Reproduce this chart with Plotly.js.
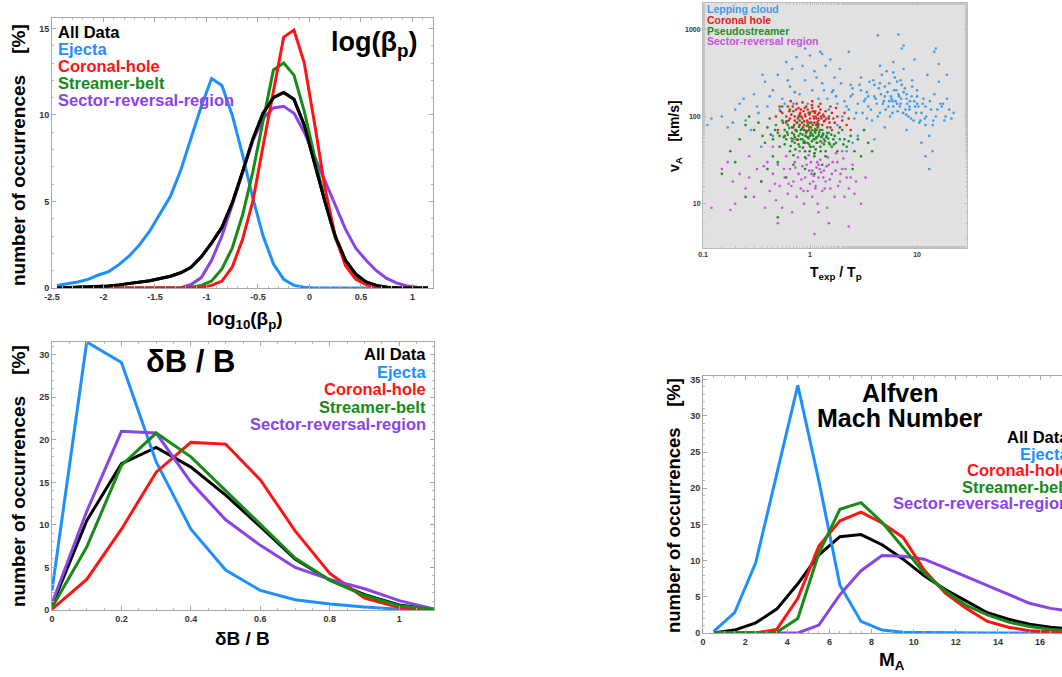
<!DOCTYPE html>
<html>
<head>
<meta charset="utf-8">
<script src="https://cdn.plot.ly/plotly-3.0.1.min.js"></script>
<style>html,body{margin:0;padding:0;background:#fff;}#chart{width:1062px;height:677px;}</style>
</head>
<body>
<div id="chart"></div>
<script>
// ---------- Panel 1: log10(beta_p) ----------
var betaBins = [-2.45,-2.35,-2.25,-2.15,-2.05,-1.95,-1.85,-1.75,-1.65,-1.55,-1.45,-1.35,-1.25,-1.15,-1.05,-0.95,-0.85,-0.75,-0.65,-0.55,-0.45,-0.35,-0.25,-0.15,-0.05,0.05,0.15,0.25,0.35,0.45,0.55,0.65,0.75,0.85,0.95,1.05,1.15];
var betaAll    = [0.0,0.02,0.03,0.05,0.08,0.12,0.18,0.25,0.33,0.42,0.55,0.68,0.88,1.2,1.8,2.6,3.5,4.9,6.7,8.6,10.1,11.0,11.3,10.9,9.4,7.2,5.0,3.0,1.6,0.8,0.35,0.15,0.05,0.02,0.0,0.0,0.0];
var betaEjecta = [0.15,0.25,0.35,0.5,0.75,0.95,1.35,1.85,2.5,3.3,4.3,5.3,6.8,8.7,10.5,12.1,11.7,10.0,7.7,5.2,3.0,1.4,0.5,0.15,0.05,0.0,0.0,0.0,0.0,0.0,0.0,0.0,0.0,0.0,0.0,0.0,0.0];
var betaCH     = [0,0,0,0,0,0,0,0,0,0,0,0,0,0.0,0.05,0.15,0.4,1.2,2.8,5.0,8.2,11.3,14.5,14.9,13.0,9.5,5.8,3.0,1.3,0.5,0.2,0.05,0.0,0.0,0.0,0.0,0.0];
var betaSB     = [0,0,0,0,0,0,0,0,0,0,0,0,0,0.05,0.15,0.4,1.1,2.3,4.2,6.7,9.6,12.6,13.0,12.3,10.2,7.5,5.0,2.9,1.5,0.6,0.25,0.1,0.03,0.0,0.0,0.0,0.0];
var betaSRR    = [0,0,0,0,0,0,0,0,0,0,0,0,0.02,0.2,0.6,1.6,3.0,4.8,6.7,8.5,9.8,10.4,10.5,10.1,9.0,7.6,6.3,4.8,3.4,2.3,1.6,1.0,0.55,0.28,0.12,0.04,0.01];
var betaXTicks = [-2.5,-2,-1.5,-1,-0.5,0,0.5,1];
var betaXText  = ['-2.5','-2','-1.5','-1','-0.5','0','0.5','1'];

// ---------- Panel 2: dB/B ----------
var dbBins   = [0,0.1,0.2,0.3,0.4,0.5,0.6,0.7,0.8,0.9,1.0,1.1];
var dbAll    = [0.5,10.5,17.2,19.1,16.8,13.5,9.8,6.0,3.5,1.8,0.6,0.05];
var dbEjecta = [2.3,31.5,29.1,17.4,9.5,4.7,2.3,1.2,0.7,0.35,0.1,0.0];
var dbCH     = [0.1,3.6,9.5,16.2,19.7,19.5,15.3,9.3,4.3,1.4,0.3,0.0];
var dbSB     = [0.3,7.4,17.0,20.8,18.0,14.0,10.0,6.1,3.5,1.7,0.5,0.1];
var dbSRR    = [0.8,11.6,21.0,20.8,15.0,10.6,7.6,5.0,3.6,2.5,1.1,0.1];

// ---------- Panel 4: Alfven Mach number ----------
var maBins   = [0.5,1.5,2.5,3.5,4.5,5.5,6.5,7.5,8.5,9.5,10.5,11.5,12.5,13.5,14.5,15.5,16.5,17.5];
var maAll    = [0.0,0.4,1.4,3.3,6.8,10.8,13.3,13.6,12.2,10.2,7.9,6.0,4.4,2.8,1.9,1.2,0.8,0.5];
var maEjecta = [0.2,2.8,9.7,22.0,34.2,21.0,6.6,1.6,0.4,0.1,0.05,0.0,0.0,0.0,0.0,0.0,0.0,0.0];
var maCH     = [0.0,0.0,0.0,0.5,4.8,12.0,15.5,16.7,15.2,13.2,8.7,5.5,3.4,1.6,0.8,0.3,0.15,0.05];
var maSB     = [0.0,0.0,0.0,0.1,2.0,11.0,17.1,18.0,15.3,11.8,8.3,5.8,3.8,2.5,1.5,0.9,0.5,0.3];
var maSRR    = [0.0,0.0,0.0,0.0,0.0,1.1,5.3,8.6,10.7,10.6,10.2,9.0,7.8,6.6,5.3,4.1,3.4,3.0];

// ---------- Panel 3: scatter v_A vs Texp/Tp ----------
var lcX = [2.1,2.3,2.5,2.6,2.8,3.0,3.1,3.3,3.5,3.6,3.8,4.0,4.2,4.4,4.5,4.7,4.9,5.1,5.3,5.5,5.6,5.8,6.0,6.2,6.4,6.6,6.8,7.0,7.2,7.5,7.8,8.0,8.3,8.6,9.0,9.3,9.6,10,10.5,11,11.5,12,12.5,13,13.5,14,14.5,15,16,17,18,19,20,22,12,13,11,14.5,7.2,9.5,4.5,6,3.2,5,8,2.8,4,16,19,10,8.8,6.5,5.2,
           0.11,0.12,0.17,0.2,0.22,0.25,0.3,0.33,0.38,0.4,0.45,0.5,0.55,0.6,0.65,0.7,0.75,0.8,0.9,1.0,1.05,1.1,1.2,1.3,1.4,1.5,1.6,1.7,1.8,1.9,1.5,1.8,2.0,0.45,0.28,0.9,1.25,0.35,2.2,2.5,4.3,6.7,7.5,1.3,2.3,15,3.4,2.4,5.9,7.9,11.8,16.5,
           2.2,2.4,2.7,2.9,3.2,3.4,3.7,3.9,4.1,4.3,4.6,4.8,5.0,5.4,5.7,5.9,6.1,6.3,6.7,6.9,7.1,7.4,7.7,8.1,8.5,8.9,9.4,9.8,10.3,10.8,11.3,12.2,13.2,14.2,15.5,17.5,18.5,21,3.0,4.0,5.0,6.0,7.0,8.0,9.0,10.0,12.0,14.0,2.5,3.5,4.5,5.5,6.5,7.5,8.5,0.15,0.19,0.24,0.32,0.42,0.52,0.62,0.72,0.85,0.95,1.15,1.35,1.55,1.75,1.95,0.36,0.58,0.68,1.45,1.65];
var lcY = [150,120,180,95,140,200,110,160,130,250,90,170,140,210,110,300,150,120,190,240,100,160,130,280,200,115,170,140,230,350,120,180,100,150,260,90,130,200,85,110,160,80,300,60,120,40,180,100,250,130,90,160,120,110,35,25,50,550,600,450,380,420,70,75,70,60,55,400,300,140,95,250,330,
           80,95,75,120,140,90,180,110,250,130,200,300,160,420,220,140,480,180,260,500,200,330,160,240,380,120,190,280,140,350,65,80,100,60,70,600,550,45,40,50,850,870,650,520,550,600,95,230,150,105,95,140,
           130,170,110,230,150,190,120,260,160,100,180,140,220,130,170,110,200,150,180,130,160,110,210,140,120,170,150,110,130,90,140,100,150,90,120,140,100,95,280,230,170,320,260,160,220,170,130,80,210,170,240,150,140,190,130,100,85,160,130,170,120,260,190,380,140,280,200,450,170,240,300,140,350,160,200];
var chX = [0.5,0.55,0.6,0.62,0.65,0.68,0.7,0.72,0.75,0.78,0.8,0.82,0.85,0.88,0.9,0.92,0.95,0.97,1.0,1.02,1.05,1.08,1.1,1.12,1.15,1.18,1.2,1.25,1.3,1.35,1.4,1.45,1.5,1.6,1.7,1.8,1.9,2.0,2.2,2.4,0.58,0.75,0.9,1.1,1.3,0.66,0.85,1.05,1.25,0.48,0.52,1.55,1.75,2.1,0.8,0.95,1.15,1.0,0.72,0.88,1.35,1.6,0.6,1.2,0.78,
           0.63,0.67,0.71,0.74,0.77,0.81,0.84,0.87,0.91,0.94,0.99,1.03,1.06,1.09,1.13,1.17,1.22,1.28,1.33,1.38,0.69,0.76,0.83,0.89,0.96,1.04,1.11,1.19,1.27,0.73,0.86,0.98,1.14,0.64,1.42,1.52,1.65,0.56,0.53,2.3];
var chY = [70,110,85,130,95,75,115,90,140,100,80,120,95,70,105,130,85,110,95,75,125,100,85,115,70,105,90,120,80,100,115,75,95,110,85,100,75,90,80,70,60,55,50,55,60,150,145,150,140,100,130,130,125,110,105,120,95,110,100,88,88,70,100,130,125,
           90,105,80,120,95,110,85,115,100,90,105,85,115,95,100,85,110,95,105,90,130,85,100,125,80,135,110,80,100,70,75,70,80,115,95,85,95,85,115,95];
var psX = [0.3,0.33,0.36,0.4,0.42,0.45,0.48,0.5,0.52,0.55,0.58,0.6,0.62,0.65,0.68,0.7,0.72,0.75,0.78,0.8,0.82,0.85,0.88,0.9,0.92,0.95,0.98,1.0,1.02,1.05,1.08,1.1,1.12,1.15,1.18,1.2,1.25,1.3,1.35,1.4,1.45,1.5,1.55,1.6,1.7,1.8,1.9,2.0,2.2,2.4,2.6,2.8,3.0,3.5,3.8,0.5,0.7,0.9,1.1,1.3,0.6,0.45,0.4,0.35,0.8,1.0,0.65,1.2,0.55,1.5,0.27,0.25,0.22,0.2,0.75,0.85,0.95,1.05,1.15,0.68,0.78,0.88,0.98,1.08,1.25,1.35,0.62,0.72,0.82,0.92,1.02,1.12,1.22,1.32,1.42,0.58,1.65,1.75,2.1,0.25,0.5,2.5,3.2,0.15,0.18,
           0.57,0.61,0.64,0.67,0.71,0.74,0.77,0.81,0.84,0.87,0.91,0.94,0.97,1.01,1.04,1.07,1.11,1.14,1.17,1.21,1.24,1.28,1.33,1.38,1.43,1.48,1.53,0.66,0.73,0.79,0.86,0.93,0.99,1.06,1.13,1.19,1.26,0.52,0.47,0.43,0.38,1.58,1.68,1.85,2.05,2.3,0.7,0.9,1.1,1.0,0.8,1.2,0.6,1.4];
var psY = [70,85,60,75,95,55,80,65,45,90,70,55,80,40,65,75,50,85,60,45,70,55,80,40,65,50,75,60,45,70,55,35,65,50,75,60,45,70,55,40,65,50,75,45,60,40,55,70,45,60,40,55,35,50,40,30,28,25,22,28,20,35,25,18,100,110,120,95,130,100,100,80,55,30,68,62,58,62,58,52,48,52,48,45,52,48,62,58,55,68,66,72,66,62,58,48,55,50,55,12,7,25,70,22,40,
           58,66,74,56,62,70,54,64,72,50,60,68,56,64,52,60,68,56,50,62,70,58,64,52,60,56,48,46,42,76,44,78,40,80,42,76,40,60,70,62,50,62,48,65,48,52,36,34,38,85,90,82,88,35];
var srX = [0.15,0.17,0.19,0.2,0.22,0.25,0.27,0.3,0.32,0.35,0.38,0.4,0.42,0.45,0.48,0.5,0.52,0.55,0.58,0.6,0.62,0.65,0.68,0.7,0.72,0.75,0.78,0.8,0.82,0.85,0.88,0.9,0.92,0.95,0.98,1.0,1.02,1.05,1.08,1.1,1.12,1.15,1.18,1.2,1.25,1.3,1.35,1.4,1.45,1.5,1.55,1.6,1.7,1.8,1.9,2.0,2.1,2.2,2.3,2.5,2.7,3.0,3.3,1.0,1.3,0.7,1.6,0.9,2.0,0.45,1.2,1.5,1.1,0.5,2.3,0.12,0.18,1.4,1.2,1.05,
           0.63,0.73,0.83,0.93,1.03,1.13,1.23,1.33,1.43,1.53,1.63,1.73,1.83,1.93,2.05,2.15,2.4,0.87,0.97,1.07,1.17,1.27,1.37,1.47,0.77,0.67,0.57,0.47,0.37,0.27,1.75,2.6];
var srY = [25,30,18,10,22,15,35,12,25,18,9,30,14,22,11,28,16,9,20,35,13,25,8,18,30,12,22,40,15,27,10,20,33,14,24,17,30,12,21,38,15,26,10,20,32,14,24,18,9,28,15,22,12,30,18,25,12,20,15,28,18,10,20,45,50,55,45,60,40,45,8,6,4.5,6,5.5,9,8.5,35,28,24,
           17,26,19,28,22,16,25,20,27,19,30,24,16,22,33,25,20,14,36,18,30,23,15,34,34,16,25,17,27,20,38,13];

var cBlack='#000000', cBlue='#1e8fff', cRed='#ff1414', cGreen='#178a17', cPurple='#8a44e6';
var FONT='Liberation Sans, Arial, Helvetica, sans-serif';

function line(x,y,color,xa,ya){
  return {x:x,y:y,type:'scatter',mode:'lines',line:{color:color,width:3},xaxis:xa,yaxis:ya,hoverinfo:'skip',showlegend:false};
}
function dots(x,y,color){
  return {x:x,y:y,type:'scatter',mode:'markers',marker:{color:color,size:2.6},xaxis:'x3',yaxis:'y3',hoverinfo:'skip',showlegend:false};
}
var data = [
  line(betaBins,betaAll,cBlack,'x','y'),
  line(betaBins,betaEjecta,cBlue,'x','y'),
  line(betaBins,betaSRR,cPurple,'x','y'),
  line(betaBins,betaSB,cGreen,'x','y'),
  line(betaBins,betaCH,cRed,'x','y'),
  line(betaBins,betaAll,cBlack,'x','y'),
  line(dbBins,dbAll,cBlack,'x2','y2'),
  line(dbBins,dbEjecta,cBlue,'x2','y2'),
  line(dbBins,dbCH,cRed,'x2','y2'),
  line(dbBins,dbSRR,cPurple,'x2','y2'),
  line(dbBins,dbSB,cGreen,'x2','y2'),
  line(maBins,maAll,cBlack,'x4','y4'),
  line(maBins,maEjecta,cBlue,'x4','y4'),
  line(maBins,maSRR,cPurple,'x4','y4'),
  line(maBins,maCH,cRed,'x4','y4'),
  line(maBins,maSB,cGreen,'x4','y4'),
  dots(lcX,lcY,'#3d9be8'),
  dots(srX,srY,'#c653d9'),
  dots(chX,chY,'#e62222'),
  dots(psX,psY,'#1f8f24')
];

function ax(o){
  var base = {showline:true,linecolor:'#a8a8a8',linewidth:1,mirror:'allticks',ticks:'inside',ticklen:4,tickcolor:'#a8a8a8',
    showgrid:false,zeroline:false,fixedrange:true,tickfont:{family:FONT,size:9,color:'#333',weight:700},
    minor:{ticks:'inside',ticklen:2,tickcolor:'#b8b8b8'}};
  for (var k in o) base[k]=o[k];
  return base;
}
function px(x){return x/1062;}
function py(y){return 1-y/677;}

var layout = {
  width:1062,height:677,margin:{l:0,r:0,t:0,b:0},paper_bgcolor:'#ffffff',plot_bgcolor:'#ffffff',
  font:{family:FONT},
  xaxis: ax({domain:[px(52),px(433)],range:[-2.5,1.2],tickvals:betaXTicks,ticktext:betaXText,anchor:'y',minor:{ticks:'inside',ticklen:2,tickcolor:'#b8b8b8',dtick:0.1}}),
  yaxis: ax({domain:[py(288),py(18)],range:[0,15.6],tickvals:[0,5,10,15],anchor:'x',minor:{ticks:'inside',ticklen:2,tickcolor:'#b8b8b8',dtick:1}}),
  xaxis2: ax({domain:[px(52),px(434)],range:[0,1.1],tickvals:[0,0.2,0.4,0.6,0.8,1],anchor:'y2',minor:{ticks:'inside',ticklen:2,tickcolor:'#b8b8b8',dtick:0.05}}),
  yaxis2: ax({domain:[py(610),py(342)],range:[0,31.5],tickvals:[0,5,10,15,20,25,30],anchor:'x2',minor:{ticks:'inside',ticklen:2,tickcolor:'#b8b8b8',dtick:1}}),
  xaxis3: ax({domain:[px(703),px(967)],type:'log',range:[-1,1.467],tickvals:[0.1,1,10],ticktext:['0.1','1','10'],anchor:'y3',linecolor:'#bdbdbd',tickcolor:'#bdbdbd',ticklen:3,tickfont:{family:FONT,size:7,color:'#333',weight:700},minor:{ticks:'inside',ticklen:2,tickcolor:'#c4c4c4'}}),
  yaxis3: ax({domain:[py(248),py(3)],type:'log',range:[0.494,3.3],tickvals:[10,100,1000],ticktext:['10','100','1000'],anchor:'x3',linecolor:'#bdbdbd',tickcolor:'#bdbdbd',ticklen:3,tickfont:{family:FONT,size:7,color:'#333',weight:700},minor:{ticks:'inside',ticklen:2,tickcolor:'#c4c4c4'}}),
  xaxis4: ax({domain:[px(703),1],range:[0,17.04],tickvals:[0,2,4,6,8,10,12,14,16],anchor:'y4',minor:{ticks:'inside',ticklen:2,tickcolor:'#b8b8b8',dtick:0.5}}),
  yaxis4: ax({domain:[py(633),py(376)],range:[0,35.5],tickvals:[0,5,10,15,20,25,30,35],anchor:'x4',mirror:false,minor:{ticks:'inside',ticklen:2,tickcolor:'#b8b8b8',dtick:1}}),
  shapes:[
    {type:'rect',xref:'paper',yref:'paper',x0:px(703),x1:px(967),y0:py(248),y1:py(3),fillcolor:'#e1e1e1',line:{width:0},layer:'below'}
  ],
  annotations:[]
};

var nb='\u00a0\u00a0\u00a0\u00a0';
function txt(t,x,y,size,color,xanchor,angle){
  layout.annotations.push({text:t,x:px(x),y:py(y),xref:'paper',yref:'paper',showarrow:false,xanchor:xanchor||'center',yanchor:'middle',
    textangle:angle||0,font:{family:FONT,size:size,color:color||'#000'}});
}
// Panel 1 text
var legNames = ['All Data','Ejecta','Coronal-hole','Streamer-belt','Sector-reversal-region'];
var legColors = [cBlack,cBlue,cRed,cGreen,cPurple];
var leg1Y=[32,49,66,83,100];
for (var i=0;i<5;i++) txt('<b>'+legNames[i]+'</b>',56,leg1Y[i],16.5,legColors[i],'left');
txt('<b>log(β<sub>p</sub>)</b>',374,44,27,'#000');
txt('<b>number of occurrences'+nb+'[%]</b>',18,155,19,'#000','center',-90);
txt('<b>log<sub>10</sub>(β<sub>p</sub>)</b>',245,320,19,'#000');
// Panel 2 text
var leg2Y=[354,372,389,407,424];
for (var i=0;i<5;i++) txt('<b>'+legNames[i]+'</b>',428,leg2Y[i],16.5,legColors[i],'right');
txt('<b>δB / B</b>',190,361,31,'#000');
txt('<b>number of occurrences'+nb+'[%]</b>',18,476,19,'#000','center',-90);
txt('<b>δB / B</b>',242,638,19,'#000');
// Panel 4 text (legend runs past the right edge, as in the original)
var leg4Y=[437,454,470,487,503];
for (var i=0;i<5;i++) txt('<b>'+legNames[i]+'</b>',1071,leg4Y[i],16.5,legColors[i],'right');
txt('<b>Alfven</b>',900,393,25,'#000');
txt('<b>Mach Number</b>',900,418,25,'#000');
txt('<b>number of occurrences'+nb+'[%]</b>',673,506,18.5,'#000','center',-90);
txt('<b>M<sub>A</sub></b>',892,661,19,'#000');
// Panel 3 text
var scNames=['Lepping cloud','Coronal hole','Pseudostreamer','Sector-reversal region'];
var scColors=['#3d9be8','#e62222','#1f8f24','#c653d9'];
var scY=[9.5,20,30.5,41];
for (var i=0;i<4;i++) txt('<b>'+scNames[i]+'</b>',705,scY[i],10.5,scColors[i],'left');
txt('<b>v<sub>A</sub>'+nb+'[km/s]</b>',675,136,14,'#000','center',-90);
txt('<b>T<sub>exp</sub> / T<sub>p</sub></b>',836,273,14,'#000');

Plotly.newPlot('chart',data,layout,{staticPlot:true,displayModeBar:false});
</script>
</body>
</html>
